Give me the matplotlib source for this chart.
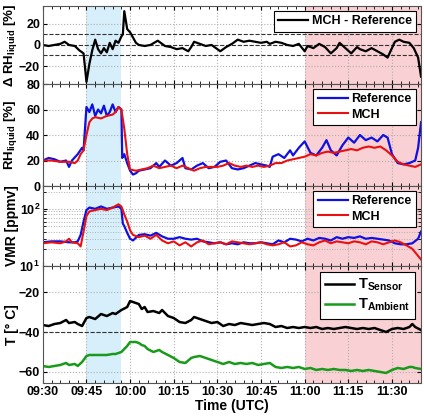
import numpy as np
import matplotlib
matplotlib.use('Agg')
import matplotlib.pyplot as plt
from matplotlib.ticker import MultipleLocator, LogLocator, NullFormatter

plt.rcParams['font.family'] = ['Liberation Sans', 'DejaVu Sans']
plt.rcParams['font.weight'] = 'bold'
plt.rcParams['axes.labelweight'] = 'bold'
plt.rcParams['mathtext.fontset'] = 'custom'
plt.rcParams['mathtext.rm'] = 'Liberation Sans:bold'
plt.rcParams['mathtext.bf'] = 'Liberation Sans:bold'
plt.rcParams['mathtext.it'] = 'Liberation Sans:bold'

# time in minutes after 09:30 UTC
xtick_min = [0, 15, 30, 45, 60, 75, 90, 105, 120]
xtick_labels = ['09:30', '09:45', '10:00', '10:15', '10:30', '10:45', '11:00', '11:15', '11:30']

# Delta RH (MCH - Reference)
t_drh = [0, 2, 4, 6, 7.5, 9, 11, 12.5, 14, 15, 16, 17, 18, 19, 20, 21, 22, 23, 24, 25, 26, 27, 27.5,
         28, 29, 30, 31, 32, 33, 35, 37, 39.5, 41, 42, 44, 46, 48, 50, 51, 52, 54, 56, 58, 60, 61, 63,
         65, 67, 69, 71, 73, 75, 77, 78, 80, 82, 84, 86, 88, 90, 91, 93, 95, 97, 99, 101, 102, 104,
         106, 108, 109, 111, 113, 115, 117, 118.5, 119.5, 121, 122.5, 124, 126, 127.5, 129, 130]
drh = [0, -1, 0, 1, 3, 0, -1, -5, -8, -35, -18, -5, 5, -4, -8, -3, -7, 2, -4, 4, 2, 8, 10,
       32, 15, 12, 7, 2, 0, -1, 0, 4, 1, -1, -2, -4, -3, -6, -2, 3, 1, -1, 0, -4, -6, -2,
       1, 5, 3, 4, 3, 2, 3, 1, 3, 2, 0, -1, 1, -6, -1, -3, 1, -2, -8, -3, 2, -3,
       -8, -2, -4, -6, -3, -6, -9, -12, -6, 3, 5, 3, 2, -3, -12, -30]

# RH liquid
t_rh_ref = [0, 2, 4, 6, 8, 9, 10, 12, 13.5, 14, 15, 16, 17, 18, 19, 20, 21, 22, 23, 24, 25, 26, 27,
            27.3, 28, 29, 30, 31, 32, 33, 35, 37, 39, 40, 42, 44, 46, 48, 49, 51, 53, 55, 57, 59, 61,
            63, 65, 67, 69, 71, 73, 75, 77, 78, 79, 81, 83, 85, 86, 88, 90, 92, 94, 96, 97.5, 99,
            101, 103, 105, 107, 109, 111, 113, 115, 117, 118.5, 120, 122, 124, 126, 128, 129, 130]
rh_ref = [20, 22, 21, 19, 20, 15, 20, 25, 30, 28, 62, 58, 64, 55, 60, 57, 63, 55, 58, 64, 58, 62, 60,
          22, 25, 18, 12, 9, 10, 12, 13, 14, 18, 15, 20, 16, 18, 22, 14, 13, 16, 18, 14, 15, 19,
          20, 14, 13, 14, 16, 18, 17, 16, 15, 23, 25, 22, 28, 24, 30, 35, 26, 24, 30, 36, 28,
          24, 32, 38, 34, 40, 36, 38, 35, 40, 38, 25, 18, 17, 18, 20, 30, 50]
t_rh_mch = [0, 3, 6, 9, 11, 12, 13, 14, 15, 16, 17, 18, 20, 22, 24, 25, 26, 27, 28, 29, 30, 32, 34,
            36, 38, 40, 42, 44, 46, 48, 50, 52, 54, 56, 58, 60, 62, 64, 66, 68, 70, 72, 74, 76, 78,
            80, 82, 84, 86, 88, 90, 92, 94, 96, 98, 100, 102, 104, 106, 108, 110, 112, 114, 116,
            118, 120, 122, 124, 126, 128, 130]
rh_mch = [20, 20, 19, 19, 18, 20, 25, 28, 40, 50, 53, 54, 53, 55, 56, 58, 62, 60, 45, 25, 13, 12, 13,
          14, 16, 14, 15, 16, 14, 16, 14, 12, 14, 15, 15, 15, 16, 18, 16, 15, 16, 15, 16, 15, 16,
          18, 18, 20, 21, 22, 23, 25, 24, 26, 27, 26, 27, 28, 29, 28, 30, 31, 30, 31,
          28, 24, 19, 17, 16, 15, 17]

# VMR [ppmv]
t_vmr_ref = [0, 3, 6, 9, 11, 12, 13, 14, 15, 16, 18, 20, 22, 24, 26, 27, 27.5, 28, 29, 30, 31, 33, 35,
             37, 39, 41, 43, 45, 47, 49, 51, 53, 55, 57, 59, 61, 63, 65, 67, 69, 71, 73, 75, 77, 79,
             81, 83, 85, 87, 89, 91, 93, 95, 97, 99, 101, 103, 105, 107, 109, 111, 113, 115, 117,
             119, 121, 123, 125, 127, 129, 130]
vmr_ref = [26, 27, 27, 26, 26, 27, 35, 60, 95, 105, 100, 110, 100, 105, 110, 100, 55, 50, 38, 30, 28, 35, 36,
           34, 38, 33, 30, 30, 32, 30, 29, 30, 27, 26, 25, 26, 24, 25, 24, 26, 25, 25, 26, 25, 24,
           28, 26, 30, 29, 27, 30, 28, 31, 30, 28, 32, 30, 32, 31, 33, 30, 31, 30, 29,
           28, 25, 24, 24, 25, 30, 40]
t_vmr_mch = [0, 3, 6, 8, 9, 10, 12, 13, 14, 15, 16, 18, 20, 22, 24, 26, 27, 28, 29, 30, 31, 33, 35,
             37, 39, 41, 43, 45, 47, 49, 51, 53, 55, 57, 59, 61, 63, 65, 67, 69, 71, 73, 75, 77, 79,
             81, 83, 85, 87, 89, 91, 93, 95, 97, 99, 101, 103, 105, 107, 109, 111, 113, 115, 117,
             119, 121, 123, 125, 127, 129, 130]
vmr_mch = [25, 26, 25, 27, 30, 26, 25, 22, 40, 75, 90, 95, 100, 95, 105, 120, 110, 80, 60, 42, 35, 32, 34,
           30, 35, 28, 25, 27, 23, 26, 22, 26, 28, 24, 25, 26, 24, 27, 26, 25, 24, 25, 26, 24, 23,
           24, 26, 22, 23, 26, 24, 23, 26, 28, 25, 27, 26, 25, 27, 26, 24, 27, 26, 24,
           26, 28, 26, 23, 20, 15, 13]

# Temperatures
t_temp = [0, 2, 4, 6, 8, 9, 11, 12, 13.5, 15, 16, 18, 20, 22, 24, 25, 27, 29, 30, 31, 32, 33, 34, 35,
          36, 38, 40, 41, 43, 45, 47, 49, 51, 52, 54, 56, 58, 60, 62, 64, 66, 68, 70, 72, 74, 76,
          78, 80, 82, 84, 86, 88, 90, 92, 94, 96, 98, 100, 102, 104, 106, 108, 110, 112, 114, 116,
          118, 120, 122, 124, 126, 127, 128, 130]
t_sensor = [-36.5, -37, -36, -35.5, -34, -35.5, -35, -36, -37, -33, -32.5, -33.5, -31, -32, -30.5, -31,
            -29, -27.5, -24.5, -25, -25.5, -26, -28.5, -27.5, -30, -29.5, -30.5, -29, -32, -33, -35,
            -35.5, -34, -32.5, -33.5, -34.5, -35.5, -35, -37, -36, -36.5, -35.5, -36, -36.5, -36,
            -35.5, -36, -37.5, -37, -38, -37.5, -38, -37.5, -38, -37.5, -38.5, -38, -38.5, -38,
            -37.5, -38, -38.5, -38, -38.5, -38, -39, -40, -38.5, -38, -38.5, -37.5, -36, -37.5, -39]
t_ambient = [-57, -57.5, -57, -56.5, -55.5, -56.5, -56, -57, -55, -52, -51.5, -51.5, -51.5, -51.5, -51,
             -51, -50, -47, -45, -45, -45, -45.5, -46.5, -47, -48.5, -50, -49, -50, -51.5, -53, -55,
             -55.5, -53, -52.5, -52, -53, -54, -55, -56, -55, -56, -55.5, -56, -55.5, -56.5, -56,
             -55.5, -57.5, -58, -57.5, -58, -57.5, -58.5, -58, -59, -58.5, -59, -58.5, -59, -59,
             -59.5, -59, -59.5, -59, -59.5, -60, -60.5, -59, -58, -58.5, -57.5, -57.5, -58, -58.5]

blue_span = (15, 27)
red_span = (90, 130)

fig = plt.figure(figsize=(4.24, 4.19), dpi=100)
left, width = 0.101, 0.892
ax1 = fig.add_axes([left, 0.7995, width, 0.1865])
ax2 = fig.add_axes([left, 0.556, width, 0.2435], sharex=ax1)
ax3 = fig.add_axes([left, 0.365, width, 0.191], sharex=ax1)
ax4 = fig.add_axes([left, 0.086, width, 0.279], sharex=ax1)
axes = [ax1, ax2, ax3, ax4]

for ax in axes:
    ax.axvspan(*blue_span, color='#d6effa', lw=0, zorder=0)
    ax.axvspan(*red_span, color='#f9d0d3', lw=0, zorder=0)
    ax.set_xlim(0, 130)
    ax.set_xticks(xtick_min)
    ax.xaxis.set_minor_locator(MultipleLocator(3))
    ax.tick_params(direction='in', top=True, right=True, labelsize=9, length=3, width=0.8, pad=2)
    ax.tick_params(which='minor', direction='in', top=True, right=True, length=2)
    ax.grid(True, which='major', color='#b0b0b0', ls=':', lw=0.8)
    ax.set_axisbelow(True)
    for s in ax.spines.values():
        s.set_color('#555555')
    if ax is not ax4:
        plt.setp(ax.get_xticklabels(), visible=False)

# panel 1
for yv in [-10, 0, 10]:
    ax1.axhline(yv, color='#333333', ls='--', lw=0.8, zorder=1)
ax1.plot(t_drh, drh, color='black', lw=1.6, label='MCH - Reference')
ax1.set_ylim(-37, 37)
ax1.set_yticks([-20, 0, 20])
ax1.set_ylabel(r'$\Delta$ RH$_{\mathrm{liquid}}$ [%]', fontsize=9.5)

# panel 2
ax2.plot(t_rh_ref, rh_ref, color='#1010e0', lw=1.6, label='Reference')
ax2.plot(t_rh_mch, rh_mch, color='#e81010', lw=1.5, label='MCH')
ax2.set_ylim(0, 80)
ax2.set_yticks([0, 20, 40, 60, 80])
ax2.set_ylabel(r'RH$_{\mathrm{liquid}}$ [%]', fontsize=9.5)

# panel 3
ax3.plot(t_vmr_ref, vmr_ref, color='#1010e0', lw=1.6, label='Reference')
ax3.plot(t_vmr_mch, vmr_mch, color='#e81010', lw=1.5, label='MCH')
ax3.set_yscale('log')
ax3.set_ylim(10, 250)
ax3.yaxis.set_major_locator(LogLocator(base=10))
ax3.yaxis.set_minor_locator(LogLocator(base=10, subs=np.arange(2, 10)))
ax3.yaxis.set_minor_formatter(NullFormatter())
ax3.grid(True, which='minor', axis='y', color='#b0b0b0', ls=':', lw=0.7)
ax3.set_ylabel('VMR [ppmv]', fontsize=10)

# panel 4
ax4.axhline(-40, color='#333333', ls='--', lw=0.8, zorder=1)
ax4.plot(t_temp, t_sensor, color='black', lw=1.8, label=r'T$_{\mathrm{Sensor}}$')
ax4.plot(t_temp, t_ambient, color='#1a9a1a', lw=1.8, label=r'T$_{\mathrm{Ambient}}$')
ax4.set_ylim(-65.5, -7)
ax4.set_yticks([-60, -40, -20])
ax4.set_ylabel('T [° C]', fontsize=10)
ax4.set_xticklabels(xtick_labels)
ax4.set_xlabel('Time (UTC)', fontsize=10, labelpad=1)

for ax in axes:
    big = ax is ax4
    leg = ax.legend(loc='upper right', fontsize=10.5 if big else 9, frameon=True, fancybox=False,
                    handlelength=2.0 if big else 2.4, borderpad=0.35, labelspacing=0.25,
                    handletextpad=0.3, borderaxespad=0.4)
    leg.get_frame().set_edgecolor('black')
    leg.get_frame().set_linewidth(0.8)
    leg.get_frame().set_alpha(1)

for ax in axes:
    ax.yaxis.set_label_coords(-0.063, 0.5)

fig.savefig('out.png', dpi=100)
